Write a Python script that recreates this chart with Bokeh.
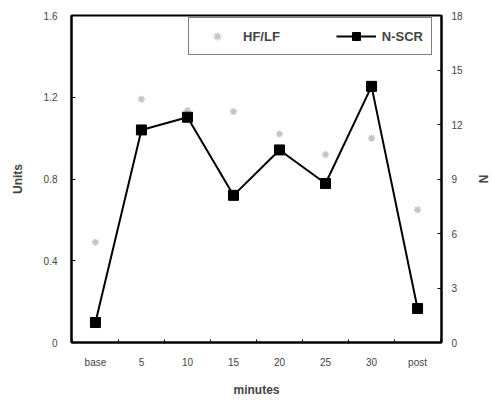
from bokeh.plotting import figure
from bokeh.models import Range1d, LinearAxis, FixedTicker, Legend, LegendItem
from bokeh.embed import file_html
from bokeh.resources import INLINE

categories = ["base", "5", "10", "15", "20", "25", "30", "post"]
hf_lf = [0.49, 1.19, 1.135, 1.13, 1.02, 0.92, 1.00, 0.65]
n_scr = [1.1, 11.7, 12.4, 8.1, 10.6, 8.75, 14.1, 1.87]
units_ticks = [0, 0.4, 0.8, 1.2, 1.6]
n_ticks = [0, 3, 6, 9, 12, 15, 18]

xs = list(range(len(categories)))
FONT = "Liberation Sans"

p = figure(width=492, height=402, output_backend="svg", toolbar_location=None,
           x_range=Range1d(-0.52, 7.52), y_range=Range1d(0, 1.6),
           min_border_left=71, min_border_right=48, min_border_top=15, min_border_bottom=60)
p.extra_y_ranges = {"n": Range1d(0, 18)}
p.xgrid.visible = False
p.ygrid.visible = False
p.outline_line_color = "black"
p.outline_line_width = 2
p.background_fill_color = "white"
p.border_fill_color = "white"

r1 = p.scatter(xs, hf_lf, marker="asterisk", size=7, line_color="#c4c4c4", line_width=1.5)
r2l = p.line(xs, n_scr, y_range_name="n", line_color="black", line_width=2)
r2m = p.scatter(xs, n_scr, y_range_name="n", marker="square", size=10, color="black")

# x axis
xa = p.xaxis[0]
xa.ticker = FixedTicker(ticks=xs, minor_ticks=[i + 0.5 for i in range(-1, 8)])
xa.major_label_overrides = {i: c for i, c in enumerate(categories)}
xa.major_tick_in = 0
xa.major_tick_out = 0
xa.minor_tick_in = 3
xa.minor_tick_out = 0
xa.axis_line_width = 2
xa.major_label_standoff = 14
xa.major_label_text_font = FONT
xa.major_label_text_font_size = "10px"
xa.axis_label = "minutes"
xa.axis_label_text_font = FONT
xa.axis_label_text_font_style = "bold"
xa.axis_label_text_font_size = "12px"
xa.axis_label_standoff = 12

# left axis
ya = p.yaxis[0]
ya.ticker = FixedTicker(ticks=units_ticks)
ya.major_tick_in = 4
ya.major_tick_out = 0
ya.minor_tick_in = 0
ya.minor_tick_out = 0
ya.axis_line_width = 2
ya.major_label_standoff = 14
ya.major_label_text_font = FONT
ya.major_label_text_font_size = "10px"
ya.axis_label = "Units"
ya.axis_label_text_font = FONT
ya.axis_label_text_font_style = "bold"
ya.axis_label_text_font_size = "12px"
ya.axis_label_standoff = 16

# right axis
ra = LinearAxis(y_range_name="n", ticker=FixedTicker(ticks=n_ticks))
ra.major_tick_in = 4
ra.major_tick_out = 0
ra.minor_tick_in = 0
ra.minor_tick_out = 0
ra.axis_line_width = 2
ra.major_label_standoff = 10
ra.major_label_text_font = FONT
ra.major_label_text_font_size = "10px"
ra.axis_label = "N"
ra.axis_label_text_font = FONT
ra.axis_label_text_font_style = "bold"
ra.axis_label_text_font_size = "12px"
ra.axis_label_standoff = 10
p.add_layout(ra, "right")

legend = Legend(items=[LegendItem(label="HF/LF", renderers=[r1]),
                       LegendItem(label="N-SCR", renderers=[r2l, r2m])],
                orientation="horizontal", location=(117, 287))
legend.label_text_font = FONT
legend.label_text_font_style = "bold"
legend.label_text_font_size = "13px"
legend.border_line_color = "black"
legend.border_line_width = 1.5
legend.glyph_width = 40
legend.spacing = 56
legend.padding = 8
legend.label_standoff = 6
p.add_layout(legend, "center")

open("out.html", "w").write(file_html(p, INLINE))
